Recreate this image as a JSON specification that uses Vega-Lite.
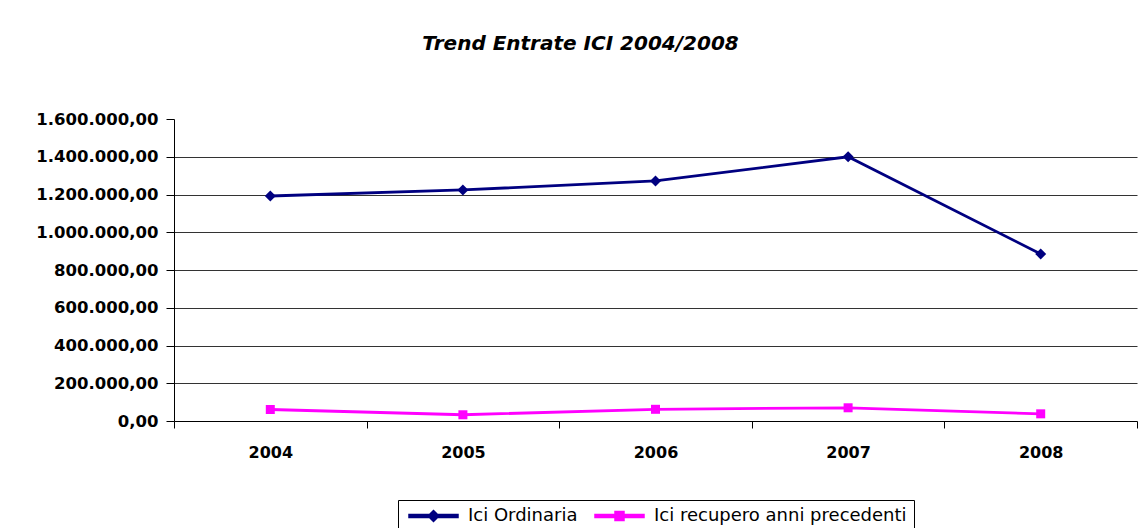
{
  "$schema": "https://vega.github.io/schema/vega-lite/v6.json",
  "width": 963,
  "height": 302,
  "autosize": {"type": "none"},
  "padding": {"left": 174, "top": 119, "right": 10, "bottom": 107},
  "background": "white",
  "title": {
    "text": "Trend Entrate ICI 2004/2008",
    "font": "DejaVu Sans",
    "fontSize": 20,
    "fontStyle": "italic",
    "fontWeight": "bold",
    "color": "black",
    "anchor": "middle",
    "dx": -75,
    "offset": 57
  },
  "config": {
    "locale": {"number": {"decimal": ",", "thousands": ".", "grouping": [3], "currency": ["€", ""]}},
    "view": {"stroke": null},
    "font": "DejaVu Sans"
  },
  "data": {
    "values": [
      {"anno": "2004", "serie": "Ici Ordinaria", "valore": 1192000},
      {"anno": "2005", "serie": "Ici Ordinaria", "valore": 1224000},
      {"anno": "2006", "serie": "Ici Ordinaria", "valore": 1272000},
      {"anno": "2007", "serie": "Ici Ordinaria", "valore": 1400000},
      {"anno": "2008", "serie": "Ici Ordinaria", "valore": 885000},
      {"anno": "2004", "serie": "Ici recupero anni precedenti", "valore": 61000},
      {"anno": "2005", "serie": "Ici recupero anni precedenti", "valore": 33000},
      {"anno": "2006", "serie": "Ici recupero anni precedenti", "valore": 62000},
      {"anno": "2007", "serie": "Ici recupero anni precedenti", "valore": 70000},
      {"anno": "2008", "serie": "Ici recupero anni precedenti", "valore": 38000}
    ]
  },
  "encoding": {
    "x": {
      "field": "anno",
      "type": "ordinal",
      "scale": {"type": "band", "paddingInner": 0, "paddingOuter": 0},
      "axis": {
        "title": null,
        "labelAngle": 0,
        "labelFont": "DejaVu Sans",
        "labelFontSize": 16,
        "labelFontWeight": "bold",
        "labelColor": "black",
        "labelPadding": 16,
        "domainColor": "black",
        "domainWidth": 1,
        "tickColor": "black",
        "tickSize": 7,
        "tickBand": "extent",
        "grid": false
      }
    },
    "y": {
      "field": "valore",
      "type": "quantitative",
      "scale": {"domain": [0, 1600000], "nice": false},
      "axis": {
        "title": null,
        "values": [0, 200000, 400000, 600000, 800000, 1000000, 1200000, 1400000, 1600000],
        "format": ",.2f",
        "labelFont": "DejaVu Sans",
        "labelFontSize": 16.5,
        "labelFontWeight": "bold",
        "labelColor": "black",
        "labelPadding": 8,
        "domainColor": "black",
        "tickColor": "black",
        "tickSize": 8,
        "grid": true,
        "gridColor": {"condition": {"test": "datum.value >= 1600000 || datum.value <= 0", "value": "transparent"}, "value": "#333333"},
        "gridOpacity": 1,
        "gridWidth": 1
      }
    }
  },
  "layer": [
    {
      "mark": {"type": "line", "strokeWidth": 2.8},
      "encoding": {
        "color": {
          "field": "serie",
          "type": "nominal",
          "scale": {"domain": ["Ici Ordinaria", "Ici recupero anni precedenti"], "range": ["#000080", "#FF00FF"]},
          "legend": {
            "title": null,
            "orient": "none",
            "legendX": 224,
            "legendY": 381,
            "direction": "horizontal",
            "labelFont": "DejaVu Sans",
            "labelFontSize": 18,
            "labelColor": "black",
            "labelLimit": 400,
            "symbolSize": 100,
            "symbolType": "M-1,-0.3H8.8V0.3H-1Z",
            "strokeColor": "black",
            "fillColor": "white",
            "padding": 7,
            "columnPadding": 13,
            "labelOffset": 45,
            "encode": {
              "symbols": {
                "update": {
                  "shape": {"signal": "datum.value === 'Ici Ordinaria' ? 'M-1,-0.3H8.8V0.3H-1Z M3.9,-1.1L5,0L3.9,1.1L2.8,0Z' : 'M-1,-0.3H8.8V0.3H-1Z M3,-0.9H4.8V0.9H3Z'"},
                  "fill": {"signal": "datum.value === 'Ici Ordinaria' ? '#000080' : '#FF00FF'"},
                  "stroke": {"value": "transparent"},
                  "opacity": {"value": 1}
                }
              }
            }
          }
        }
      }
    },
    {
      "transform": [{"filter": "datum.serie === 'Ici Ordinaria'"}],
      "mark": {"type": "point", "filled": true, "opacity": 1, "shape": "diamond", "size": 121, "color": "#000080"}
    },
    {
      "transform": [{"filter": "datum.serie === 'Ici recupero anni precedenti'"}],
      "mark": {"type": "point", "filled": true, "opacity": 1, "shape": "square", "size": 81, "color": "#FF00FF"}
    }
  ]
}
